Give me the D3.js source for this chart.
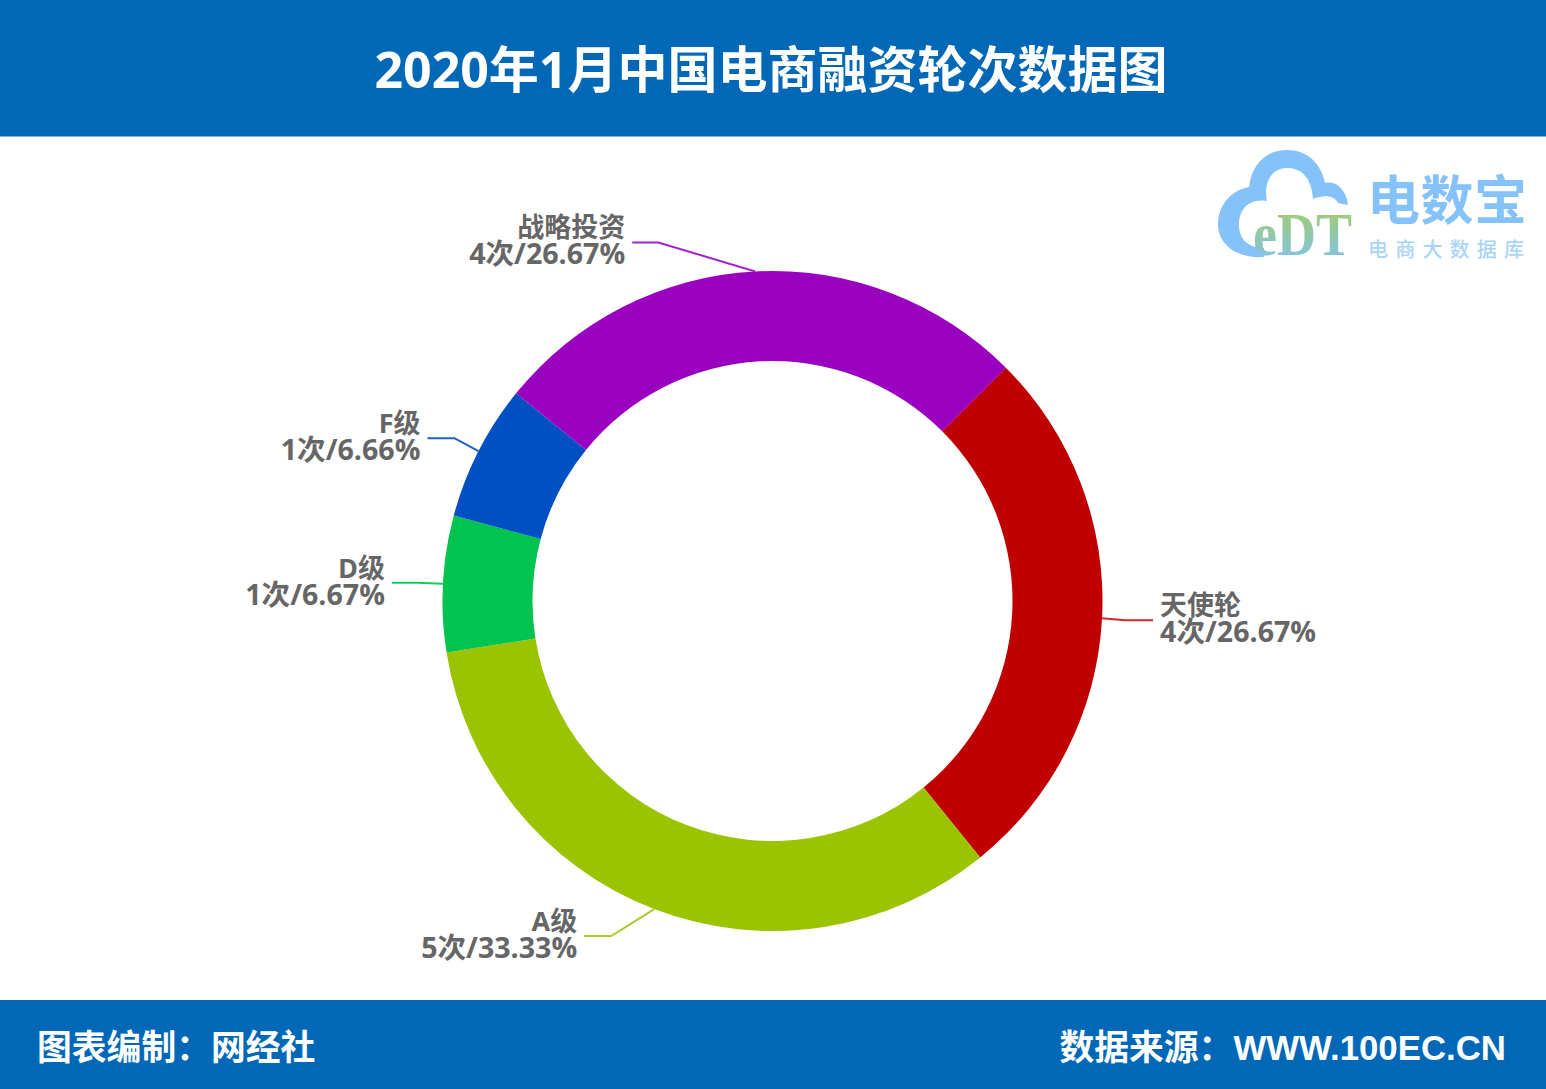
<!DOCTYPE html>
<html><head><meta charset="utf-8">
<script src="https://cdn.jsdelivr.net/npm/d3@7"></script>
<style>
html,body{margin:0;padding:0;background:#fff}
svg{display:block}
text{font-family:"Open Sans","Noto Sans CJK SC",sans-serif;font-weight:700}
</style></head><body><svg id="c" width="1546" height="1089"></svg>
<script>
const titleText = "2020年1月中国电商融资轮次数据图";
const footerLeft = "图表编制：网经社";
const footerRight = "数据来源：WWW.100EC.CN";
const categories = ["天使轮","A级","D级","F级","战略投资"];
const counts = [4,5,1,1,4];
const percents = ["26.67","33.33","6.67","6.66","26.67"];
const colors = ["#c00000","#9bc300","#00c44f","#0050c4","#9900bf"];
const lineColors = ["#cc2a2a","#a9cc2a","#14cc60","#1a5fcc","#a81fcc"];

const svg = d3.select("#c");
const W = 1546, H = 1089, cx = 772.5, cy = 601, R = 330, r = 240;
const blue = "#0068b7";

svg.append("rect").attr("width",W).attr("height",136.5).attr("fill",blue);
svg.append("rect").attr("y",1000).attr("width",W).attr("height",89).attr("fill",blue);
svg.append("text").attr("x",771).attr("y",88).attr("text-anchor","middle")
  .attr("font-size",50).attr("fill","#fff").text(titleText);
svg.append("text").attr("x",37).attr("y",1060).attr("font-size",34.8).attr("fill","#fff").text(footerLeft);
svg.append("text").attr("x",1506).attr("y",1060).attr("text-anchor","end").attr("font-size",34.8).attr("fill","#fff")
  .attr("style","font-family:'Liberation Sans','Noto Sans CJK SC',sans-serif;font-weight:700").text(footerRight);

// donut
const table = categories.map((c,i)=>({c,n:counts[i],p:percents[i],col:colors[i],lc:lineColors[i]}));
const pie = d3.pie().sort(null).value(d=>d.n).startAngle(Math.PI/4).endAngle(Math.PI/4+2*Math.PI);
const arc = d3.arc().innerRadius(r).outerRadius(R);
const g = svg.append("g").attr("transform",`translate(${cx},${cy})`);
const arcs = pie(table);
g.selectAll("path.s").data(arcs).join("path").attr("class","s").attr("d",arc).attr("fill",d=>d.data.col);

// leader lines: offset from the slice's outer mid point to elbow, then horizontal run
const leader = [
 {ex:23,ey:2,run:28,side:1},
 {ex:-43,ey:27,run:27,side:-1},
 {ex:-26,ey:-1,run:25,side:-1},
 {ex:-24,ey:-13,run:27,side:-1},
 {ex:-97,ey:-29,run:26,side:-1}
];
arcs.forEach((a,i)=>{
  const m=(a.startAngle+a.endAngle)/2;
  const px=cx+R*Math.sin(m), py=cy-R*Math.cos(m);
  const l=leader[i], ex=px+l.ex, ey=py+l.ey, tx=ex+l.side*l.run;
  svg.append("path").attr("d",d3.line()([[px,py],[ex,ey],[tx,ey]]))
    .attr("fill","none").attr("stroke",a.data.lc).attr("stroke-width",2);
  const lx=tx+l.side*7;
  const t=svg.append("text").attr("text-anchor",l.side>0?"start":"end").attr("fill","#666").attr("font-size",27);
  t.append("tspan").attr("x",lx).attr("y",ey-5).text(a.data.c);
  t.append("tspan").attr("x",lx).attr("y",ey+22).attr("font-size",28.6).text(`${a.data.n}次/${a.data.p}%`);
});

// logo
const defs=svg.append("defs");
const lg=defs.append("linearGradient").attr("id","edt").attr("x1",0).attr("y1",0).attr("x2",0).attr("y2",1);
lg.append("stop").attr("offset","0%").attr("stop-color","#a8d05a");
lg.append("stop").attr("offset","100%").attr("stop-color","#7cc0f8");
const logo=svg.append("g");
const sky="#85c2fa";
logo.append("path")
 .attr("d","M1264,257 C1234,259 1218,242 1218,225 C1218,204 1232,190 1249,187 C1252,163 1267,150 1287,150 C1307,150 1321,163 1325,183 C1337,180 1347,192 1348,205 L1338,203 C1335,196 1325,194 1313,199 C1312,180 1303,168 1287,168 C1272,168 1263,182 1267,201 C1248,198 1239,210 1239,225 C1239,238 1247,248 1264,248 Z")
 .attr("fill",sky);
logo.append("text").attr("x",1253).attr("y",255).attr("font-size",62).attr("fill","url(#edt)")
 .attr("textLength",99).attr("lengthAdjust","spacingAndGlyphs")
 .attr("style","font-family:'Liberation Serif',serif;font-weight:700").text("eDT");
logo.append("text").attr("x",1367).attr("y",220).attr("font-size",53).attr("fill","#85c2fa").attr("textLength",160)
 .attr("style","font-family:'Noto Sans CJK SC';font-weight:700").text("电数宝");
logo.append("text").attr("x",1368).attr("y",257).attr("font-size",20).attr("fill","#a9d4fa").attr("textLength",156)
 .attr("style","font-family:'Noto Sans CJK SC';font-weight:500").text("电商大数据库");
</script></body></html>
